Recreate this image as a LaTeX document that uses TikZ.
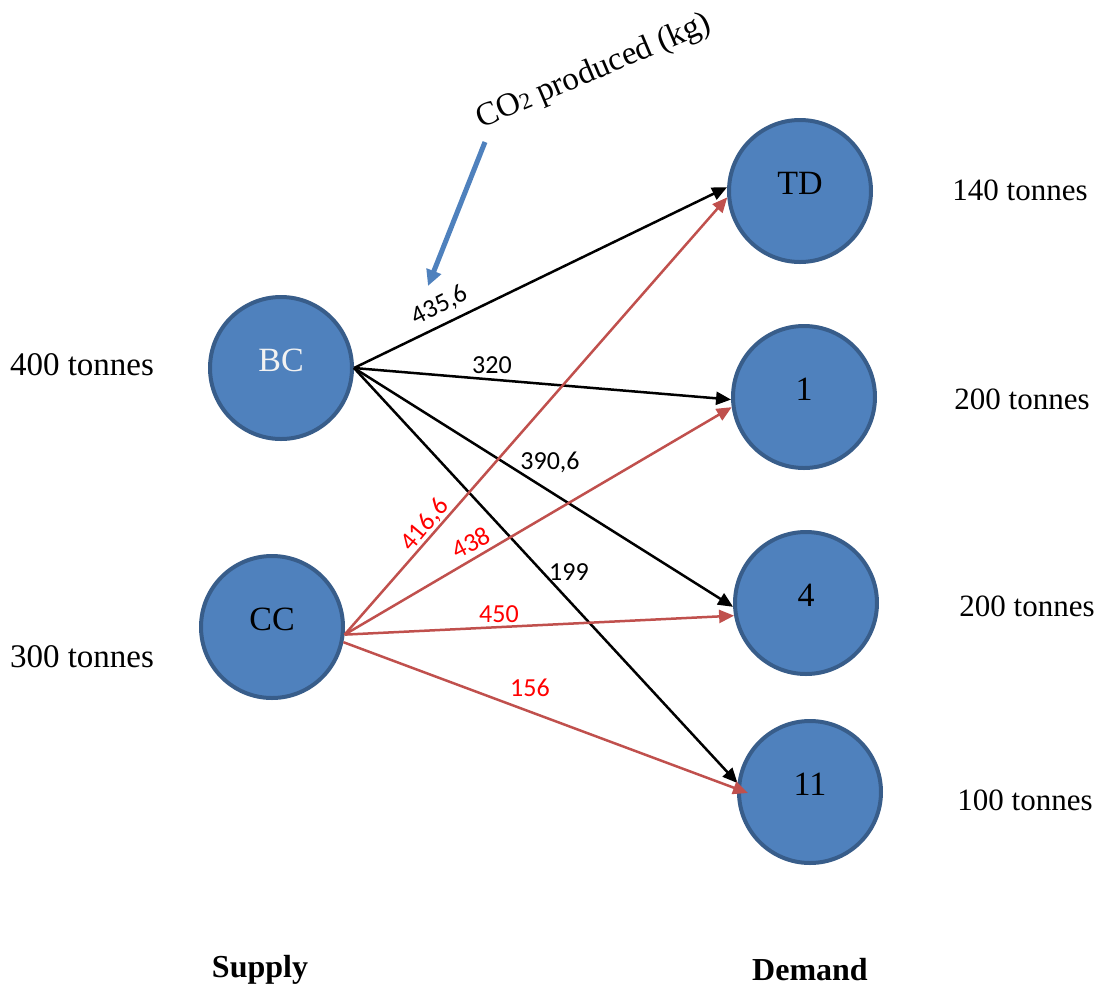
\documentclass[tikz,border=0pt]{standalone}
\usepackage{fontspec}
\setmainfont{Liberation Serif}
\newfontfamily\numfont{Carlito}
\usetikzlibrary{arrows.meta}
\definecolor{nodefill}{HTML}{4F81BD}
\definecolor{nodeline}{HTML}{385D8A}
\definecolor{redline}{HTML}{C0504D}
\begin{document}
\begin{tikzpicture}[x=0.5pt,y=-0.5pt,
  place/.style={circle, draw=nodeline, fill=nodefill, line width=2pt,
    minimum size=71pt, inner sep=0pt},
  inname/.style={font=\fontsize{17}{19}\selectfont, yshift=4pt},
  qty/.style={font=\fontsize{15.5}{18}\selectfont},
  bigqty/.style={font=\fontsize{16.5}{19}\selectfont},
  head/.style={font=\bfseries\fontsize{16}{19}\selectfont},
  blackflow/.style={black, line width=1.25pt, -{Triangle[length=7.5pt,width=6.5pt]}},
  redflow/.style={redline, line width=1.25pt, -{Triangle[length=7.5pt,width=6.5pt]}},
  cost/.style={font=\numfont\fontsize{13}{15}\selectfont, inner sep=1pt},
  redcost/.style={cost, text=red}]
\useasboundingbox (0,0) rectangle (1105,992);

% supply and demand places
\node[place, label={[inname, text=white!95!black]center:BC}] (BC) at (281,368) {};
\node[place, label={[inname]center:CC}] (CC) at (272,627) {};
\node[place, label={[inname]center:TD}] (TD) at (800,191) {};
\node[place, label={[inname]center:1}] (n1) at (804,397) {};
\node[place, label={[inname]center:4}] (n4) at (806,603) {};
\node[place, label={[inname]center:11}] (n11) at (810,792) {};

% quantities
\node[bigqty] (q400) at (82,365) {400 tonnes};
\node[bigqty] (q300) at (82,657) {300 tonnes};
\node[qty] (q140) at (1020,190) {140 tonnes};
\node[qty] (q200a) at (1022,399) {200 tonnes};
\node[qty] (q200b) at (1027,606) {200 tonnes};
\node[qty] (q100) at (1025,800) {100 tonnes};

\node[head] (supply) at (260,970) {Supply};
\node[head] (demand) at (810,970) {Demand};

% flows from BC
\draw[blackflow] (BC.east) -- (TD.177.7);
\draw[blackflow] (BC.east) -- (n1.182.4);
\draw[blackflow] (BC.east) -- (n4.183);
\draw[blackflow] (BC.east) -- (n11.173);

% flows from CC
\coordinate (in11) at (748,793);
\draw[redflow] (CC.-6) -- (TD.185);
\draw[redflow] (CC.-6) -- (n1.188);
\draw[redflow] (CC.-6) -- (n4.190.5);
\draw[redflow] (CC.-12) -- (in11);

% emission labels
\node[cost, rotate=27] (c1) at (440,306) {435,6};
\node[cost] (c2) at (492,365) {320};
\node[cost] (c3) at (550,462) {390,6};
\node[cost] (c4) at (569,572) {199};
\node[redcost, rotate=50] (c5) at (425,525) {416,6};
\node[redcost, rotate=27] (c6) at (471,543) {438};
\node[redcost] (c7) at (499,614) {450};
\node[redcost] (c8) at (530,688) {156};

% annotation
\node[bigqty, rotate=23] (co2) at (594,72) {CO{\fontsize{11.5}{12}\selectfont 2} produced (kg)};
\coordinate (co2tip) at (428,286);
\draw[nodefill, line width=2.5pt, -{Triangle[length=8pt,width=7.5pt]}] (485,142) -- (co2tip);
\end{tikzpicture}
\end{document}
